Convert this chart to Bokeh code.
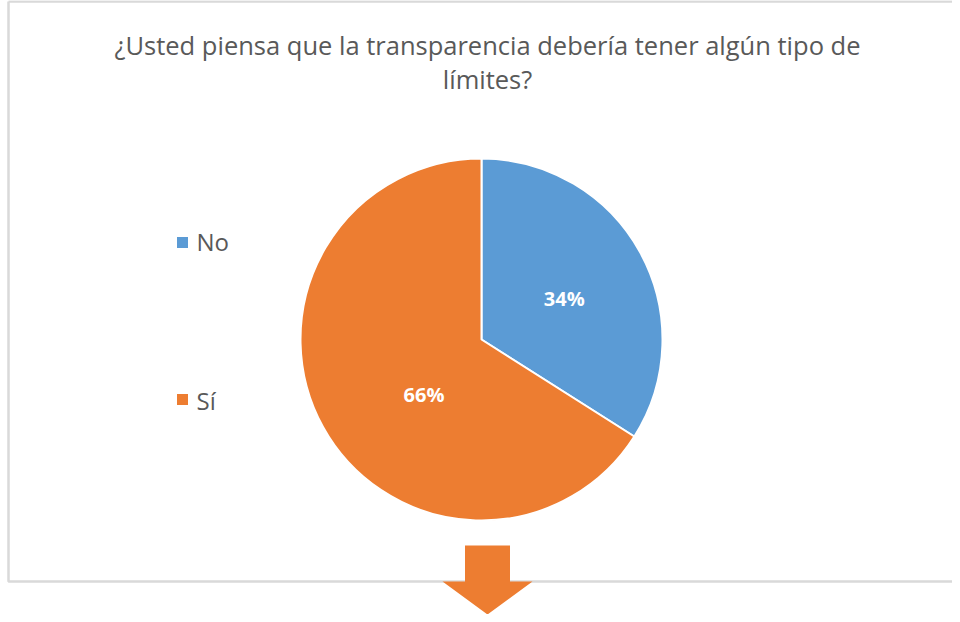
import numpy as np
from bokeh.plotting import figure
from bokeh.models import Range1d
from bokeh.core.properties import value
from bokeh.embed import file_html
from bokeh.resources import INLINE

categories = ["No", "Sí"]
shares = [34, 66]
colors = ["#5B9BD5", "#ED7D31"]
title_lines = ["¿Usted piensa que la transparencia debería tener algún tipo de", "límites?"]

W, H = 952, 614
p = figure(width=W, height=H, output_backend="svg", toolbar_location=None,
           x_range=Range1d(0, W), y_range=Range1d(0, H),
           min_border=0, outline_line_color=None)
p.axis.visible = False
p.grid.visible = False

def Y(ry):
    return H - ry

# chart frame
p.line([8, 8, 960], [Y(1), Y(581), Y(581)], line_color="#D9D9D9", line_width=2.5)
p.line([8, 960], [Y(1), Y(1)], line_color="#D9D9D9", line_width=2.5)

# pie
cx, cy, r = 481, Y(339), 181
frac = np.array(shares) / sum(shares)
ends = np.pi / 2 - np.cumsum(frac) * 2 * np.pi
starts = np.concatenate([[np.pi / 2], ends[:-1]])
p.wedge(x=cx, y=cy, radius=r, start_angle=ends, end_angle=starts,
        fill_color=colors, line_color="white", line_width=2)

# data labels (best-fit placement)
mid = (starts + ends) / 2 + np.radians([-2.5, 15])
lab_r = np.array([0.51, 0.44]) * r
lx = cx + lab_r * np.cos(mid)
ly = cy + lab_r * np.sin(mid)
p.text(x=lx, y=ly, text=[f"{s}%" for s in shares], text_color="white",
       text_font=value("Open Sans"), text_font_style="bold", text_font_size="20px",
       text_align="center", text_baseline="middle")

# legend
p.scatter(x=[182] * 2, y=[Y(242), Y(399)], marker="square", size=11, fill_color=colors, line_color=None)
p.text(x=[196] * 2, y=[Y(241), Y(400)], text=categories, text_color="#595959",
       text_font=value("Open Sans"), text_font_size="24px", text_baseline="middle")

# title
p.text(x=[487, 487], y=[Y(44), Y(78)], text=title_lines, text_color="#595959",
       text_font=value("Open Sans"), text_font_size="25.5px",
       text_align="center", text_baseline="middle")

# arrow below chart
ax = 487
shaft_hw, head_hw = 22.5, 45
shaft_top, head_base, tip = 545, 581, 614
p.patch(x=[ax - shaft_hw, ax + shaft_hw, ax + shaft_hw, ax + head_hw, ax, ax - head_hw, ax - shaft_hw],
        y=[Y(shaft_top), Y(shaft_top), Y(head_base), Y(head_base), Y(tip), Y(head_base), Y(head_base)],
        fill_color="#ED7D31", line_color=None)

open("out.html", "w").write(file_html(p, INLINE))
